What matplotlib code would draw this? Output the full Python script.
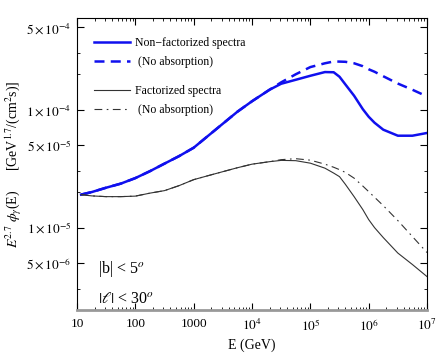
import numpy as np
import matplotlib
matplotlib.use("Agg")
import matplotlib.pyplot as plt
from matplotlib.ticker import FixedLocator, LogLocator, NullFormatter

plt.rcParams['font.family'] = ['Liberation Serif', 'DejaVu Serif']
plt.rcParams['mathtext.fontset'] = 'stix'

# energy grid (GeV), log10 values
logE = [1.07, 1.25, 1.5, 1.75, 2.0, 2.25, 2.5, 2.75, 3.0, 3.25, 3.5, 3.75, 4.0, 4.3,
        4.5, 4.75, 5.0, 5.25, 5.4, 5.5, 5.6, 5.75, 5.9, 6.0, 6.1, 6.25, 6.5, 6.75, 7.0]

# non-factorized spectra
nonfact = [1.905e-5, 2.0e-5, 2.18e-5, 2.36e-5, 2.63e-5, 3.01e-5, 3.49e-5, 4.04e-5,
           4.76e-5, 6.02e-5, 7.61e-5, 9.62e-5, 1.18e-4, 1.477e-4,
           1.661e-4, 1.795e-4, 1.941e-4, 2.087e-4, 2.079e-4, 1.904e-4, 1.64e-4,
           1.314e-4, 1.01e-4, 8.72e-5, 7.76e-5, 6.77e-5, 6.02e-5, 6.02e-5, 6.35e-5]
nonfact_noabs = [1.905e-5, 2.0e-5, 2.18e-5, 2.36e-5, 2.63e-5, 3.01e-5, 3.49e-5, 4.04e-5,
                 4.76e-5, 6.02e-5, 7.61e-5, 9.62e-5, 1.18e-4, 1.477e-4,
                 1.707e-4, 1.999e-4, 2.30e-4, 2.477e-4, 2.566e-4, 2.56e-4, 2.55e-4,
                 2.477e-4, 2.34e-4, 2.204e-4, 2.10e-4, 1.923e-4, 1.667e-4, 1.477e-4, 1.296e-4]

# factorized spectra
fact = [1.905e-5, 1.858e-5, 1.831e-5, 1.831e-5, 1.849e-5, 1.96e-5, 2.059e-5, 2.27e-5,
        2.551e-5, 2.76e-5, 2.982e-5, 3.22e-5, 3.452e-5, 3.624e-5,
        3.717e-5, 3.696e-5, 3.52e-5, 3.193e-5, 2.9e-5, 2.705e-5, 2.33e-5,
        1.831e-5, 1.42e-5, 1.169e-5, 1.0e-5, 8.23e-6, 6.08e-6, 4.86e-6, 3.84e-6]
fact_noabs = [1.905e-5, 1.858e-5, 1.831e-5, 1.831e-5, 1.849e-5, 1.96e-5, 2.059e-5, 2.27e-5,
              2.551e-5, 2.76e-5, 2.982e-5, 3.22e-5, 3.452e-5, 3.624e-5,
              3.77e-5, 3.843e-5, 3.733e-5, 3.452e-5, 3.25e-5, 3.101e-5, 2.94e-5,
              2.627e-5, 2.25e-5, 2.019e-5, 1.81e-5, 1.536e-5, 1.147e-5, 8.39e-6, 6.14e-6]

E = 10.0 ** np.array(logE)

fig = plt.figure(figsize=(4.36, 3.55), dpi=100)
ax = fig.add_axes([0.1766, 0.1268, 0.8028, 0.8225])

l1, = ax.plot(E, nonfact, color='#1010ee', lw=1.8)
l2, = ax.plot(E, nonfact_noabs, color='#1010ee', lw=1.8, dashes=(4, 2.5))
l3, = ax.plot(E, fact, color='#333333', lw=0.8)
l4, = ax.plot(E, fact_noabs, color='#333333', lw=0.8, dashes=(7, 4, 1.5, 4))

ax.set_xscale('log')
ax.set_yscale('log')
ax.set_xlim(10, 1e7)
ax.set_ylim(2.0e-6, 6.0e-4)

xt = [10, 100, 1000, 1e4, 1e5, 1e6, 1e7]
xtl = ['10', '100', '1000', r'$10^4$', r'$10^5$', r'$10^6$', r'$10^7$']
ax.set_xticks(xt)
ax.set_xticklabels(xtl)
ax.xaxis.set_minor_locator(LogLocator(base=10, subs=np.arange(2, 10)))
ax.xaxis.set_minor_formatter(NullFormatter())

yt = [5e-6, 1e-5, 5e-5, 1e-4, 5e-4]
ytl = [r'$5\times10^{-6}$', r'$1\times10^{-5}$', r'$5\times10^{-5}$',
       r'$1\times10^{-4}$', r'$5\times10^{-4}$']
ax.set_yticks(yt)
ax.set_yticklabels(ytl)
ax.yaxis.set_minor_locator(FixedLocator([2e-6, 3e-6, 2e-5, 3e-5, 2e-4, 3e-4]))
ax.yaxis.set_minor_formatter(NullFormatter())

ax.tick_params(which='both', direction='in', top=True, right=True, labelsize=9.5)
ax.tick_params(which='major', length=5, width=0.8)
ax.tick_params(which='minor', length=2.5, width=0.6)
ax.tick_params(axis='x', pad=6)
ax.tick_params(axis='y', pad=4)
ax.spines['bottom'].set_color('#999999')
ax.spines['bottom'].set_linewidth(2)

ax.set_xlabel('E (GeV)', fontsize=10, labelpad=3)
ax.set_ylabel(r'$E^{2.7}\ \phi_\gamma$(E)$\quad\quad$[GeV$^{1.7}$/(cm$^2$s)]', fontsize=10, labelpad=2)

leg1 = ax.legend([l1, l2], ['Non\u2212factorized spectra', ' (No absorption)'],
                 loc='upper left', bbox_to_anchor=(0.034, 0.95), frameon=False,
                 fontsize=8.5, handlelength=3.1, handletextpad=0.4, labelspacing=0.55,
                 borderaxespad=0)
ax.add_artist(leg1)
ax.legend([l3, l4], ['Factorized spectra', ' (No absorption)'],
          loc='upper left', bbox_to_anchor=(0.034, 0.785), frameon=False,
          fontsize=8.5, handlelength=3.1, handletextpad=0.4, labelspacing=0.55,
          borderaxespad=0)

ax.text(0.06, 0.125, r'|b| < 5$^o$', transform=ax.transAxes, fontsize=11.5)
ax.text(0.06, 0.025, r'$|\ell|$ < 30$^o$', transform=ax.transAxes, fontsize=11.5)

fig.savefig('out.png', dpi=100)
